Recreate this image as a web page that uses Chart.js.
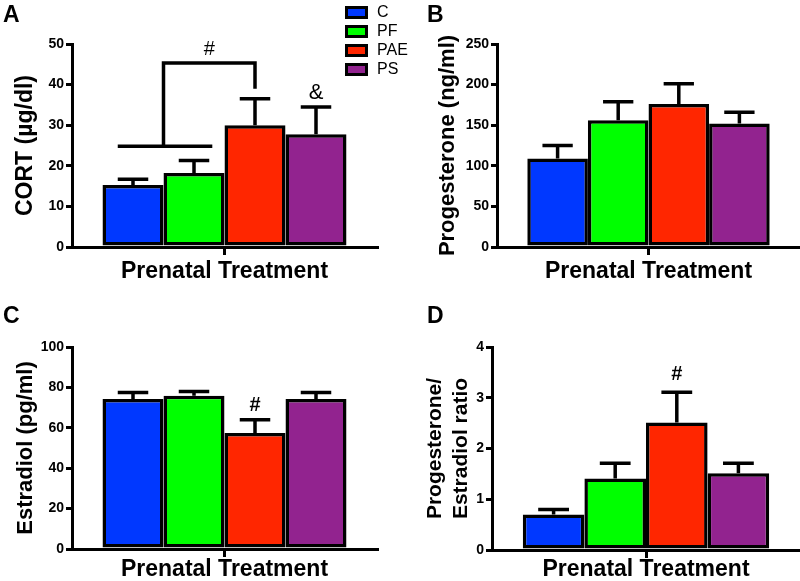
<!DOCTYPE html>
<html>
<head>
<meta charset="utf-8">
<script src="https://cdn.jsdelivr.net/npm/chart.js@4.4.1/dist/chart.umd.min.js"></script>
<style>
  html, body { margin: 0; padding: 0; background: #fff; width: 800px; height: 581px; overflow: hidden; position: relative; }
  canvas { position: absolute; }
  .panel { position: absolute; font: bold 23px 'Liberation Sans', Arial, sans-serif; line-height: 1; color: #000; }
</style>
</head>
<body>
<canvas id="cortChart" width="420" height="290" style="left:0;top:0"></canvas>
<canvas id="progChart" width="400" height="290" style="left:400px;top:0"></canvas>
<canvas id="estChart" width="400" height="300" style="left:0;top:290px"></canvas>
<canvas id="ratioChart" width="400" height="300" style="left:400px;top:290px"></canvas>
<div class="panel" style="left:3px;top:3px">A</div>
<div class="panel" style="left:427px;top:3px">B</div>
<div class="panel" style="left:3px;top:304px">C</div>
<div class="panel" style="left:427px;top:304px">D</div>
<script>
const groups = ['C', 'PF', 'PAE', 'PS'];
const groupColors = ['#0038ff', '#00ff00', '#ff2600', '#92238f'];

// means and SEM
const cortMean = [15.3, 18.2, 30.0, 27.8];
const cortSem = [1.4, 3.1, 6.5, 6.7];
const cortTicks = [0, 10, 20, 30, 40, 50];

const progMean = [109, 156, 176, 152];
const progSem = [16, 23, 25, 14];
const progTicks = [0, 50, 100, 150, 200, 250];

const estMean = [74.3, 75.9, 57.4, 74.3];
const estSem = [3.2, 2.1, 6.6, 3.2];
const estTicks = [0, 20, 40, 60, 80, 100];

const ratioMean = [0.70, 1.41, 2.51, 1.51];
const ratioSem = [0.10, 0.30, 0.60, 0.20];
const ratioTicks = [0, 1, 2, 3, 4];

// bracket in A: C+PF vs PAE (low bar, top, right foot)
const cortBracket = [24.8, 45.3, 39.0];

const FONT = "'Liberation Sans', Arial, sans-serif";

const errorBars = {
  id: 'errorBars',
  afterDatasetsDraw(chart, args, opts) {
    const ctx = chart.ctx;
    const y = chart.scales.y;
    ctx.save();
    ctx.strokeStyle = '#000';
    ctx.lineWidth = 3.5;
    chart.data.datasets.forEach((ds, i) => {
      const bar = chart.getDatasetMeta(i).data[0];
      const top = y.getPixelForValue(ds.data[0] + opts.sem[i]);
      const half = bar.width * 0.25;
      ctx.beginPath();
      ctx.moveTo(bar.x, bar.y);
      ctx.lineTo(bar.x, top);
      ctx.moveTo(bar.x - half, top);
      ctx.lineTo(bar.x + half, top);
      ctx.stroke();
    });
    if (opts.annotate) opts.annotate(chart, ctx);
    ctx.restore();
  }
};

function barAt(chart, i) {
  return chart.getDatasetMeta(i).data[0];
}

function makeChart(id, mean, sem, ticks, yTitle, area, pads, annotate) {
  const canvas = document.getElementById(id);
  const W = canvas.width, H = canvas.height;
  return new Chart(canvas, {
    type: 'bar',
    data: {
      labels: [''],
      datasets: groups.map((g, i) => ({
        label: g,
        data: [mean[i]],
        backgroundColor: groupColors[i],
        borderColor: '#000',
        borderWidth: 3.5,
        borderSkipped: false,
        categoryPercentage: 0.8,
        barPercentage: 1
      }))
    },
    options: {
      responsive: false,
      animation: false,
      events: [],
      layout: { padding: { left: 0, top: area.top, right: W - area.right, bottom: 0 } },
      plugins: {
        legend: { display: false },
        tooltip: { enabled: false },
        errorBars: { sem: sem, annotate: annotate }
      },
      scales: {
        x: {
          type: 'category',
          offset: true,
          afterFit(s) { s.height = H - area.bottom; },
          grid: { offset: false, drawOnChartArea: false, color: '#000', lineWidth: 3, tickLength: 8 },
          border: { color: '#000', width: 3 },
          ticks: { display: true, font: { size: 1 } },
          title: {
            display: true, text: 'Prenatal Treatment', color: '#000',
            font: { family: FONT, size: 23, weight: 'bold' },
            padding: { top: 0, bottom: pads.x }
          }
        },
        y: {
          min: ticks[0],
          max: ticks[ticks.length - 1],
          afterFit(s) { s.width = area.left; },
          ticks: { stepSize: ticks[1] - ticks[0], color: '#000', padding: 2,
                   font: { family: FONT, size: 14, weight: 'bold' } },
          grid: { drawOnChartArea: false, color: '#000', lineWidth: 3, tickLength: 6 },
          border: { color: '#000', width: 3 },
          title: {
            display: true, text: yTitle, color: '#000',
            font: { family: FONT, size: pads.ySize || 22, weight: 'bold', lineHeight: 1.25 },
            padding: { top: pads.y, bottom: 0 }
          }
        }
      }
    },
    plugins: [errorBars]
  });
}

// A: CORT
makeChart('cortChart', cortMean, cortSem, cortTicks, 'CORT (\u00b5g/dl)',
  { left: 72, top: 44, right: 377, bottom: 247 }, { x: 5, y: 11, ySize: 23 },
  (chart, ctx) => {
    const y = chart.scales.y;
    const c = barAt(chart, 0), pf = barAt(chart, 1), pae = barAt(chart, 2), ps = barAt(chart, 3);
    const low = y.getPixelForValue(cortBracket[0]);
    const high = y.getPixelForValue(cortBracket[1]);
    const foot = y.getPixelForValue(cortBracket[2]);
    const mid = (c.x + pf.x) / 2;
    ctx.lineWidth = 3.5;
    ctx.beginPath();
    ctx.moveTo(c.x - c.width * 0.25, low);
    ctx.lineTo(pf.x + pf.width * 0.3, low);
    ctx.moveTo(mid, low);
    ctx.lineTo(mid, high);
    ctx.lineTo(pae.x, high);
    ctx.lineTo(pae.x, foot);
    ctx.stroke();
    ctx.fillStyle = '#000';
    ctx.textAlign = 'center';
    ctx.textBaseline = 'alphabetic';
    ctx.font = '20px ' + FONT;
    ctx.fillText('#', (mid + pae.x) / 2, y.getPixelForValue(cortBracket[1]) - 8);
    ctx.font = '22px ' + FONT;
    ctx.fillText('&', ps.x, y.getPixelForValue(cortMean[3] + cortSem[3]) - 8);
    // legend
    ctx.textAlign = 'left';
    ctx.textBaseline = 'middle';
    ctx.font = '16px ' + FONT;
    groups.forEach((g, i) => {
      const top = 6 + i * 19;
      ctx.fillStyle = '#000';
      ctx.fillRect(345, top, 23, 13);
      ctx.fillStyle = groupColors[i];
      ctx.fillRect(348, top + 3, 17, 7);
      ctx.fillStyle = '#000';
      ctx.fillText(g, 377, top + 7);
    });
  });

// B: Progesterone
makeChart('progChart', progMean, progSem, progTicks, 'Progesterone (ng/ml)',
  { left: 97, top: 44, right: 400, bottom: 247 }, { x: 5, y: 34 }, null);

// C: Estradiol
makeChart('estChart', estMean, estSem, estTicks, 'Estradiol (pg/ml)',
  { left: 72, top: 57, right: 377, bottom: 259 }, { x: 7, y: 12 },
  (chart, ctx) => {
    const y = chart.scales.y;
    const pae = barAt(chart, 2);
    ctx.fillStyle = '#000';
    ctx.textAlign = 'center';
    ctx.font = 'bold 20px ' + FONT;
    ctx.fillText('#', pae.x, y.getPixelForValue(estMean[2] + estSem[2]) - 9);
  });

// D: ratio
makeChart('ratioChart', ratioMean, ratioSem, ratioTicks, ['Progesterone/', 'Estradiol ratio'],
  { left: 92, top: 57, right: 400, bottom: 260 }, { x: 7, y: 22, ySize: 21 },
  (chart, ctx) => {
    const y = chart.scales.y;
    const pae = barAt(chart, 2);
    ctx.fillStyle = '#000';
    ctx.textAlign = 'center';
    ctx.font = 'bold 20px ' + FONT;
    ctx.fillText('#', pae.x, y.getPixelForValue(ratioMean[2] + ratioSem[2]) - 12);
  });
</script>
</body>
</html>
